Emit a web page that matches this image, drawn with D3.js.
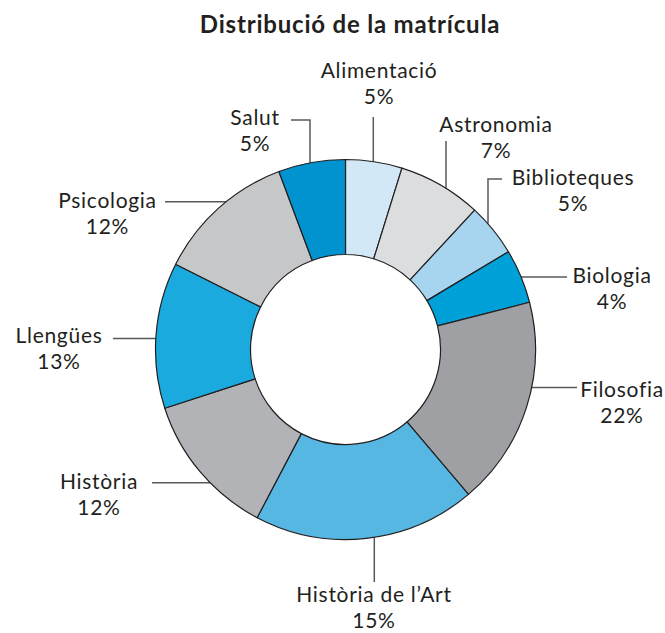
<!DOCTYPE html>
<html>
<head>
<meta charset="utf-8">
<script src="https://cdn.jsdelivr.net/npm/d3@7"></script>
<style>
  html, body { margin: 0; padding: 0; background: #fff; }
  svg { display: block; }
  text { font-family: Lato, "Open Sans", sans-serif; fill: #231f20; }
</style>
</head>
<body>
<svg id="chart" width="665" height="633"></svg>
<script>
// ---- data ----
const categories = ["Alimentació", "Astronomia", "Biblioteques", "Biologia", "Filosofia",
                    "Història de l’Art", "Història", "Llengües", "Psicologia", "Salut"];
// percentages printed on the labels
const labelPercents = [5, 7, 5, 4, 22, 15, 12, 13, 12, 5];
const sliceShares = [4.8, 7.1, 4.5, 4.6, 17.8, 18.9, 12.3, 12.4, 11.9, 5.7];
const colors = ["#d2e8f6", "#dcdddf", "#a7d5ef", "#00a0d8", "#9fa0a4",
                "#56b7e3", "#b2b3b7", "#1aaadd", "#c6c7c9", "#0093d0"];
const title = "Distribució de la matrícula";

// ---- layout (positions only) ----
const cx = 345.5, cy = 349.5, R = 190, r0 = 95;
// label placement: text centre x, name baseline y, leader description
const labelLayout = [
  { x: 379, y: 78,  leader: { type: "v", x: 373.3, y: 117 } },
  { x: 496, y: 132, leader: { type: "v", x: 446, y: 141 } },
  { x: 573, y: 185, leader: { type: "elbow", x: 488, y: 179, x2: 502 } },
  { x: 612, y: 283, leader: { type: "h", y: 277, x: 567 } },
  { x: 622, y: 397, leader: { type: "h", y: 387.5, x: 577 } },
  { x: 374, y: 602, leader: { type: "v", x: 374.3, y: 582 } },
  { x: 99,  y: 489, leader: { type: "h", y: 482.7, x: 152 } },
  { x: 59,  y: 343, leader: { type: "h", y: 338.5, x: 113 } },
  { x: 107.5, y: 208, leader: { type: "h", y: 201.7, x: 165 } },
  { x: 255, y: 125, leader: { type: "elbow", x: 310, y: 120, x2: 291 } }
];

const svg = d3.select("#chart");

svg.append("text")
  .attr("x", 350).attr("y", 33)
  .attr("text-anchor", "middle")
  .style("font-weight", "bold")
  .style("font-size", "24px")
  .style("letter-spacing", "0.8px")
  .text(title);

const data = categories.map((c, i) => ({ name: c, share: sliceShares[i], pct: labelPercents[i], color: colors[i], layout: labelLayout[i] }));

const pie = d3.pie().sort(null).value(d => d.share);
const arc = d3.arc().innerRadius(r0).outerRadius(R);
const arcs = pie(data);

// leader lines (drawn first, under the ring)
const leaders = svg.append("g")
  .attr("fill", "none").attr("stroke", "#58595b").attr("stroke-width", 1.5);

arcs.forEach(a => {
  const L = a.data.layout.leader;
  let pts;
  if (L.type === "v" || L.type === "elbow") {
    const dx = L.x - cx;
    const dy = Math.sqrt(R * R - dx * dx);
    const yRing = L.y < cy ? cy - dy : cy + dy;
    pts = L.type === "v" ? [[L.x, L.y], [L.x, yRing]] : [[L.x2, L.y], [L.x, L.y], [L.x, yRing]];
  } else {
    const dy = L.y - cy;
    const dx = Math.sqrt(R * R - dy * dy);
    const xRing = L.x < cx ? cx - dx : cx + dx;
    pts = [[L.x, L.y], [xRing, L.y]];
  }
  leaders.append("path").attr("d", d3.line()(pts));
});

svg.append("g")
  .attr("transform", `translate(${cx},${cy})`)
  .selectAll("path")
  .data(arcs)
  .join("path")
  .attr("d", arc)
  .attr("fill", d => d.data.color)
  .attr("stroke", "#231f20")
  .attr("stroke-width", 1.2)
  .attr("stroke-linejoin", "round");

const labels = svg.append("g").attr("text-anchor", "middle")
  .style("font-size", "21px").style("letter-spacing", "0.7px");
data.forEach(d => {
  labels.append("text").attr("x", d.layout.x).attr("y", d.layout.y).text(d.name);
  labels.append("text").attr("x", d.layout.x).attr("y", d.layout.y + 25.5).text(d.pct + "%");
});
</script>
</body>
</html>
